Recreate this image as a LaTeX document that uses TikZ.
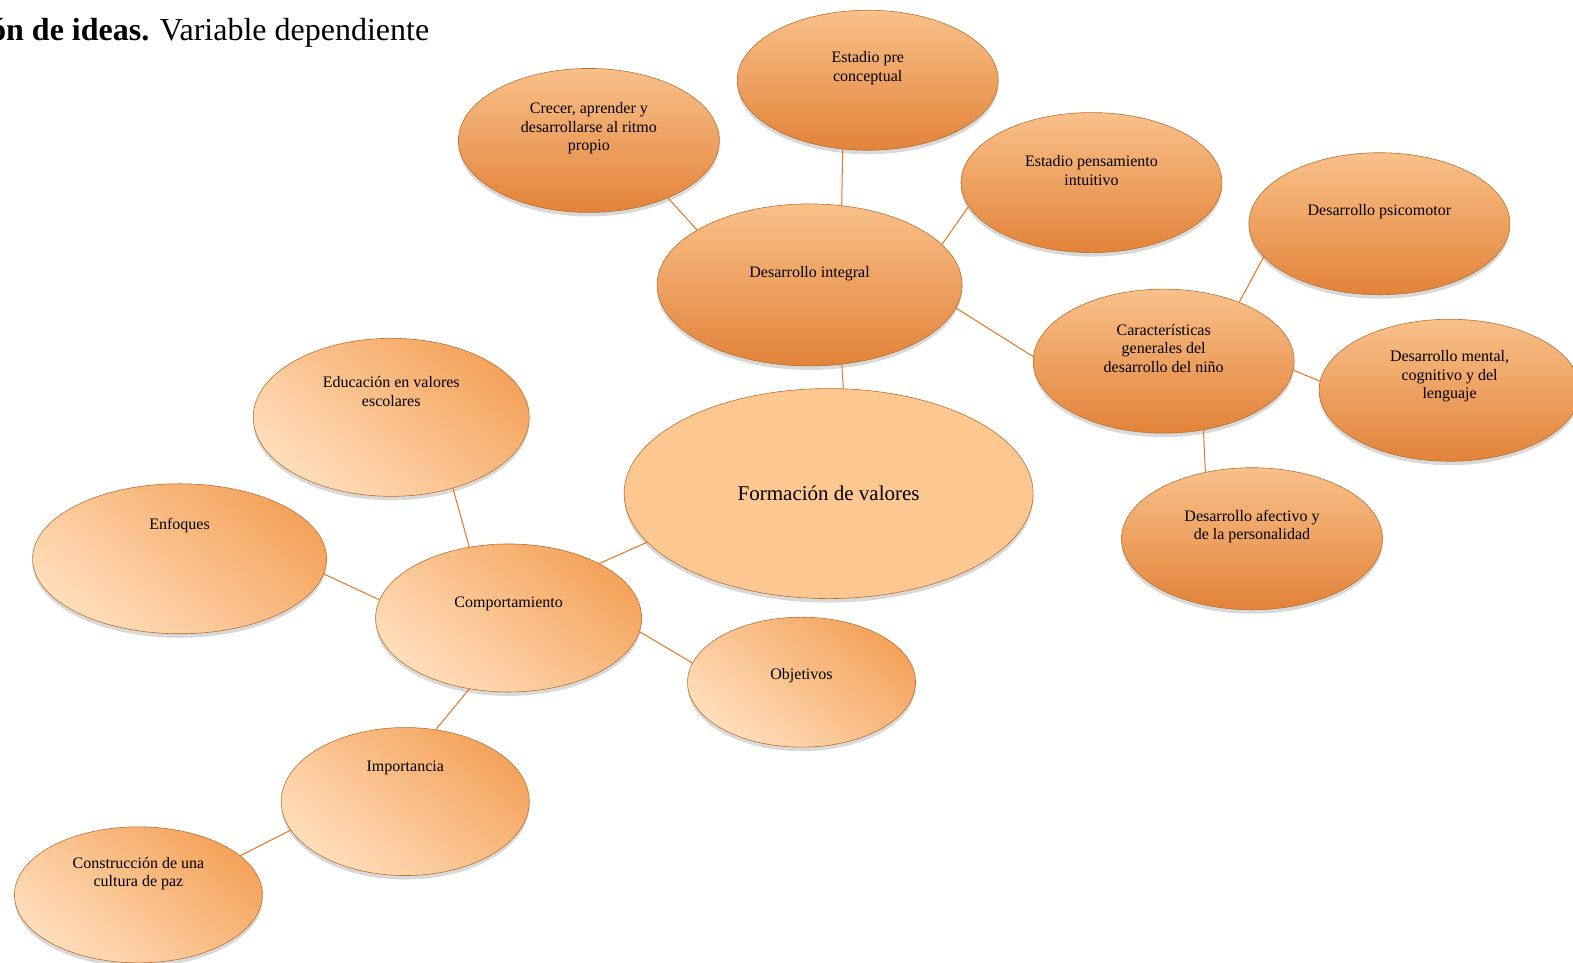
\documentclass[tikz,border=0pt]{standalone}
\usepackage{fontspec}
\setmainfont{Liberation Serif}
\usetikzlibrary{shapes.geometric,shadows}
\definecolor{orTop}{HTML}{F9C08A}
\definecolor{orBot}{HTML}{E2833A}
\definecolor{pchHi}{HTML}{F4A35C}
\definecolor{pchLo}{HTML}{FFDEBB}
\definecolor{pchFlat}{HTML}{FDC792}
\definecolor{rimCol}{HTML}{B8702F}
\definecolor{linkCol}{HTML}{E4741E}
\begin{document}
\begin{tikzpicture}[
    x=1.0032pt, y=-1.0032pt,
    bubble/.style={
        ellipse,
        draw=rimCol,
        line width=0.6pt,
        inner sep=0pt,
        minimum width=261pt,
        minimum height=142pt,
        drop shadow={shadow xshift=0pt, shadow yshift=-4pt, opacity=0.3}},
    darkbub/.style={bubble, top color=orTop, bottom color=orBot},
    lightbub/.style={bubble, top color=pchHi, bottom color=pchLo, shading angle=-40},
    every label/.style={
        align=center,
        inner sep=0pt,
        font=\fontsize{16}{18.5}\selectfont},
    link/.style={draw=linkCol, line width=1pt}]
    \useasboundingbox (0,0) rectangle (1568,959);

    \node[anchor=base west, inner sep=0pt, font=\fontsize{32}{36}\selectfont] (ttl) at (-10,40)
        {\textbf{ón de ideas.} Variable dependiente};

    \node[darkbub, minimum height=144pt, label={[yshift=12pt]center:{Crecer, aprender y\\desarrollarse al ritmo\\propio}}] (crec) at (587,140) {};
    \node[darkbub, minimum height=140pt, label={[yshift=12pt]center:{Estadio pre\\conceptual}}] (pre) at (865,80) {};
    \node[darkbub, minimum height=140pt, label={[yshift=12pt]center:{Estadio pensamiento\\intuitivo}}] (intu) at (1088,182) {};
    \node[darkbub, minimum width=305pt, minimum height=162pt, label={[yshift=11pt]center:{Desarrollo integral}}] (dint) at (807,284) {};
    \node[darkbub, minimum height=144pt, label={[yshift=13pt]center:{Características\\generales del\\desarrollo del niño}}] (carac) at (1160,360) {};
    \node[darkbub, label={[yshift=12pt]center:{Desarrollo psicomotor}}] (psico) at (1375,223) {};
    \node[darkbub, label={[yshift=14pt]center:{Desarrollo mental,\\cognitivo y del\\lenguaje}}] (ment) at (1445,389) {};
    \node[darkbub, label={[yshift=12pt]center:{Desarrollo afectivo y\\de la personalidad}}] (afec) at (1248,537) {};

    \node[bubble, fill=pchFlat, minimum width=409pt, minimum height=210pt, label={[font=\fontsize{21}{25}\selectfont]center:{Formación de valores}}] (form) at (826,492) {};

    \node[lightbub, minimum width=276pt, minimum height=158pt, label={[yshift=26pt]center:{Educación en valores\\escolares}}] (educ) at (390,416) {};
    \node[lightbub, minimum width=294pt, minimum height=150pt, label={[yshift=33pt]center:{Enfoques}}] (enfo) at (179,557) {};
    \node[lightbub, minimum width=266pt, minimum height=148pt, label={[yshift=14pt]center:{Comportamiento}}] (comp) at (507,616) {};
    \node[lightbub, minimum width=228pt, minimum height=130pt, label={[yshift=7pt]center:{Objetivos}}] (obje) at (799,680) {};
    \node[lightbub, minimum width=248pt, minimum height=148pt, label={[yshift=34pt]center:{Importancia}}] (impo) at (404,799) {};
    \node[lightbub, minimum width=248pt, minimum height=136pt, label={[yshift=21pt]center:{Construcción de una\\cultura de paz}}] (cons) at (138,892) {};

    \draw[link] (crec.-36) -- (dint.154);
    \draw[link] (pre.250) -- (dint.68);
    \draw[link] (intu.-169) -- (dint.17);
    \draw[link] (dint.-9) -- (carac.178);
    \draw[link] (dint.-68) -- (form.82);
    \draw[link] (carac.38) -- (psico.-164);
    \draw[link] (carac.-4) -- (ment.176);
    \draw[link] (carac.-60) -- (afec.125);
    \draw[link] (form.195) -- (comp.31);
    \draw[link] (comp.119) -- (educ.-49);
    \draw[link] (comp.172) -- (enfo.-6);
    \draw[link] (comp.-6) -- (obje.170);
    \draw[link] (comp.241) -- (impo.67);
    \draw[link] (impo.194) -- (cons.21);
\end{tikzpicture}
\end{document}
